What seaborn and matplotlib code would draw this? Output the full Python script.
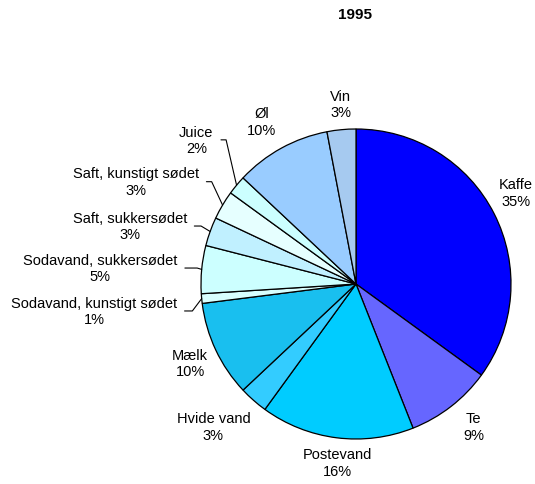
import numpy as np
import seaborn as sns
import matplotlib.pyplot as plt

# shares of drinks, 1995 (percent)
drinks = ['Kaffe', 'Te', 'Postevand', 'Hvide vand', 'Mælk',
          'Sodavand, kunstigt sødet', 'Sodavand, sukkersødet',
          'Saft, sukkersødet', 'Saft, kunstigt sødet', 'Juice', 'Øl', 'Vin']
shares = [35, 9, 16, 3, 10, 1, 5, 3, 3, 2, 10, 3]
colors = ['#0000FF', '#6666FF', '#00CCFF', '#33CCFF', '#19BFEF',
          '#D8FFFF', '#CCFFFF', '#C0F0FF', '#E6FFFF', '#CCFFFF',
          '#99CCFF', '#A6CAF0']

# where each label goes (pie radius = 1); leader lines get an end angle
label_pos = [(1.03, 0.59), (0.76, -0.92), (-0.12, -1.15), (-0.92, -0.92),
             (-1.07, -0.51), (-1.69, -0.174), (-1.65, 0.103), (-1.46, 0.374),
             (-1.42, 0.66), (-1.03, 0.93), (-0.61, 1.05), (-0.10, 1.16)]
leader_angle = [None, None, None, None, None, -127, 163, 149, 115, 103, None, None]

sns.set_theme(style='white')
plt.rcParams['font.family'] = ['Liberation Sans', 'DejaVu Sans']
plt.rcParams['text.color'] = 'black'

fig = plt.figure(figsize=(5.35, 4.85), dpi=100)
ax = fig.add_axes([0, 0, 1, 1])

wedges, _ = ax.pie(shares, colors=colors, startangle=90, counterclock=False,
                   radius=1, wedgeprops=dict(edgecolor='black', linewidth=0.9))

cum = np.cumsum([0] + shares[:-1])
for i, (name, v) in enumerate(zip(drinks, shares)):
    txt = f'{name}\n{v}%'
    tx, ty = label_pos[i]
    if leader_angle[i] is not None:
        theta = np.deg2rad(90 - 360 * (cum[i] + v / 2) / 100)
        ax.annotate(txt, xy=(np.cos(theta), np.sin(theta)), xytext=(tx, ty),
                    ha='center', va='center', fontsize=10.5, linespacing=1.23,
                    arrowprops=dict(arrowstyle='-', color='black', lw=0.8,
                                    shrinkA=3, shrinkB=0, relpos=(1, 0.5),
                                    connectionstyle=f'angle,angleA=0,angleB={leader_angle[i]},rad=0'))
    else:
        ax.text(tx, ty, txt, ha='center', va='center', fontsize=10.5, linespacing=1.23)

ax.text(-0.006, 1.742, '1995', ha='center', va='center', fontsize=11, fontweight='bold')

ax.set_xlim(-356 / 155, 179 / 155)
ax.set_ylim(-200 / 155, 285 / 155)
ax.set_aspect('auto')
ax.axis('off')

fig.savefig('out.png', dpi=100)
